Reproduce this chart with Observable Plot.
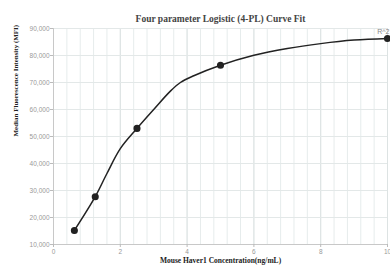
<!DOCTYPE html>
<html>
<head>
<meta charset="utf-8">
<script src="https://cdn.jsdelivr.net/npm/d3@7"></script>
<script src="https://cdn.jsdelivr.net/npm/@observablehq/plot@0.6"></script>
<style>
  html, body { margin: 0; padding: 0; background: #fff; }
  #chart svg { display: block; }
</style>
</head>
<body>
<div id="chart"></div>
<script>
// Measured standards (concentration ng/mL, MFI)
const pointX = [0.625, 1.25, 2.5, 5, 10];
const pointY = [15200, 27700, 53000, 76400, 86300];

// Fitted curve
const curveX = [0.625, 1.25, 1.6, 2, 2.5, 3, 3.5, 3.8, 4.2, 5, 6, 7, 8, 9, 10];
const curveY = [15200, 27700, 36300, 45500, 53000, 60000, 66800, 70000, 72500, 76400, 80100, 82600, 84400, 85700, 86300];

const xTicks = [0, 2, 4, 6, 8, 10];
const xGrid = [0.4, 0.8, 1.2, 1.6, 2, 2.4, 2.8, 3.2, 3.6, 4, 4.4, 4.8, 5.2, 5.6, 6, 6.4, 6.8, 7.2, 7.6, 8, 8.4, 8.8, 9.2, 9.6, 10];
const yTicks = [10000, 20000, 30000, 40000, 50000, 60000, 70000, 80000, 90000];

const title = "Four parameter Logistic (4-PL) Curve Fit";
const xLabel = "Mouse Haver1 Concentration(ng/mL)";
const yLabel = "Median Fluorescence Intensity (MFI)";
const r2Label = "R^2";

const points = pointX.map((x, i) => ({x, y: pointY[i]}));
const curve = curveX.map((x, i) => ({x, y: curveY[i]}));

const serif = "'Liberation Serif', 'DejaVu Serif', serif";
const sans = "'Liberation Sans', Arial, sans-serif";

const chart = Plot.plot({
  width: 390,
  height: 268,
  marginLeft: 53,
  marginRight: 3,
  marginTop: 28,
  marginBottom: 24,
  style: {fontFamily: sans, background: "#fff"},
  x: {domain: [0, 10]},
  y: {domain: [10000, 90000]},
  marks: [
    Plot.ruleX(xGrid, {stroke: "#e6ecec", strokeWidth: 1}),
    Plot.ruleX(xTicks, {stroke: "#dde3e3", strokeWidth: 1}),
    Plot.ruleY(yTicks, {stroke: "#e3e8e8", strokeWidth: 1}),
    Plot.ruleX([0], {stroke: "#c8c8c8"}),
    Plot.ruleY([10000], {stroke: "#c8c8c8"}),
    Plot.axisX({ticks: xTicks, tickSize: 3, tickPadding: 2, stroke: "#bbb", color: "#999", fontSize: 6.5, tickFormat: d3.format("d"), label: null}),
    Plot.axisY({ticks: yTicks, tickSize: 3, tickPadding: 1, stroke: "#bbb", color: "#999", fontSize: 6.5, tickFormat: d3.format(","), label: null}),
    Plot.line(curve, {x: "x", y: "y", curve: "catmull-rom", stroke: "#222", strokeWidth: 1.5}),
    Plot.dot(points, {x: "x", y: "y", r: 2.8, fill: "#222", stroke: "#222"}),
    Plot.text([points[points.length - 1]], {x: "x", y: "y", text: () => r2Label, dy: -7, dx: 2, textAnchor: "end", fill: "#888", fontSize: 7}),
    Plot.text([title], {frameAnchor: "top", dy: -13, fontFamily: serif, fontWeight: "bold", fontSize: 9.5, fill: "#444"}),
    Plot.text([xLabel], {frameAnchor: "bottom", dy: 18.5, fontFamily: serif, fontWeight: "bold", fontSize: 7.5, fill: "#222"}),
    Plot.text([yLabel], {frameAnchor: "left", dx: -37.5, rotate: -90, fontFamily: serif, fontWeight: "bold", fontSize: 7, fill: "#222"})
  ]
});
document.getElementById("chart").appendChild(chart);
</script>
</body>
</html>
